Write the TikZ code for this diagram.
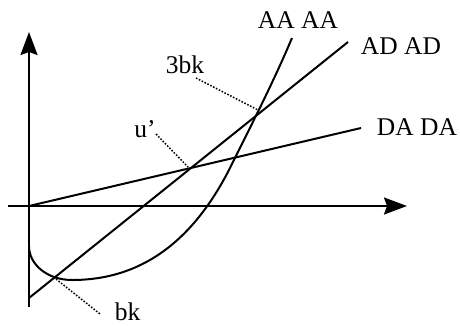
\documentclass[tikz,border=0pt]{standalone}
\usepackage{fontspec}
\setmainfont{Liberation Serif}
\usetikzlibrary{arrows.meta}
\begin{document}
\begin{tikzpicture}[x=1pt,y=-1pt,
  curve/.style={line width=2pt},
  axis/.style={line width=2pt,-{Stealth[length=23pt,width=17pt,inset=3pt]}},
  leader/.style={line width=1.5pt,dash pattern=on 1.6pt off 1.6pt},
  lbl/.style={anchor=base,inner sep=0pt,font=\fontsize{25.5}{30}\selectfont}]
\useasboundingbox (0,0) rectangle (460,325);
% axes
\coordinate (O) at (29,206);
\coordinate (ybot) at (29,307);
\coordinate (ytop) at (29,32);
\coordinate (xl) at (8,206);
\coordinate (xr) at (407,206);
\draw[axis] (ybot) -- (ytop);
\draw[axis] (xl) -- (xr);
% lines
\coordinate (da1) at (361,128);
\coordinate (ad0) at (29,298);
\coordinate (ad1) at (348,42);
\draw[curve] (O) -- (da1);
\draw[curve] (ad0) -- (ad1);
% AA curve
\coordinate (aa0) at (29,246);
\coordinate (aa1) at (72,280);
\coordinate (aa2) at (230,168);
\coordinate (aa3) at (292,38);
\draw[curve] (aa0) .. controls (29,265) and (48,280) .. (aa1)
  .. controls (150,280) and (198,231) .. (aa2)
  .. controls (245,137) and (270,90) .. (aa3);
% labels
\node[lbl] (AA) at (298,28) {AA AA};
\node[lbl] (AD) at (401,54) {AD AD};
\node[lbl] (DA) at (417,135) {DA DA};
\node[lbl] (tbk) at (185,73) {3bk};
\node[lbl] (up) at (145,137) {u’};
\node[lbl] (bk) at (127.5,320) {bk};
% leaders
\coordinate (s3) at (196,78);
\coordinate (e3) at (258,110);
\coordinate (su) at (156,134);
\coordinate (eu) at (188,167);
\coordinate (sb) at (56,279);
\coordinate (eb) at (100,314);
\draw[leader] (s3) -- (e3);
\draw[leader] (su) -- (eu);
\draw[leader] (sb) -- (eb);
\end{tikzpicture}
\end{document}
